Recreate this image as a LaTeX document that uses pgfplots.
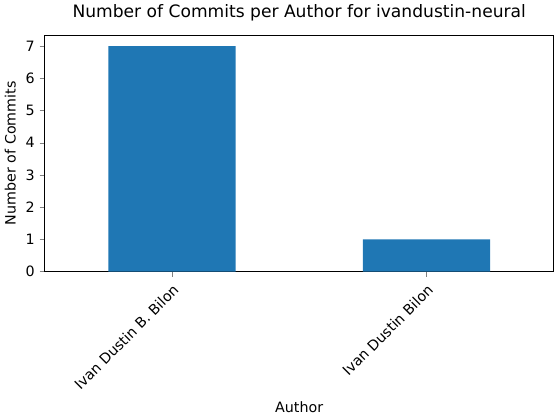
\documentclass[border=0pt]{standalone}
\usepackage{pgfplots}
\pgfplotsset{compat=1.18}
\usepackage{fontspec}
\setmainfont{DejaVu Sans}
\definecolor{mblue}{HTML}{1F77B4}
\begin{document}
\begin{tikzpicture}
\begin{axis}[
  scale only axis, width=357pt, height=166pt,
  xmin=-0.5, xmax=1.5, ymin=0, ymax=7.35,
  xtick={0,1}, xticklabels={Ivan Dustin B. Bilon, Ivan Dustin Bilon},
  xticklabel style={rotate=45, anchor=north east, font=\fontsize{10}{12}\selectfont},
  yticklabel style={font=\fontsize{10}{12}\selectfont},
  ytick={0,1,2,3,4,5,6,7},
  /pgf/number format/assume math mode=true,
  tick align=outside, tick pos=left,
  major tick length=3.5pt,
  xlabel={Author}, ylabel={Number of Commits},
  label style={font=\fontsize{10}{12}\selectfont},
  title={Number of Commits per Author for ivandustin-neural},
  title style={font=\fontsize{12}{14}\selectfont},
  ybar, bar width=0.5, bar shift=0pt,
]
\addplot[fill=mblue, draw=none] coordinates {(0,7) (1,1)};
\end{axis}
\end{tikzpicture}
\end{document}
